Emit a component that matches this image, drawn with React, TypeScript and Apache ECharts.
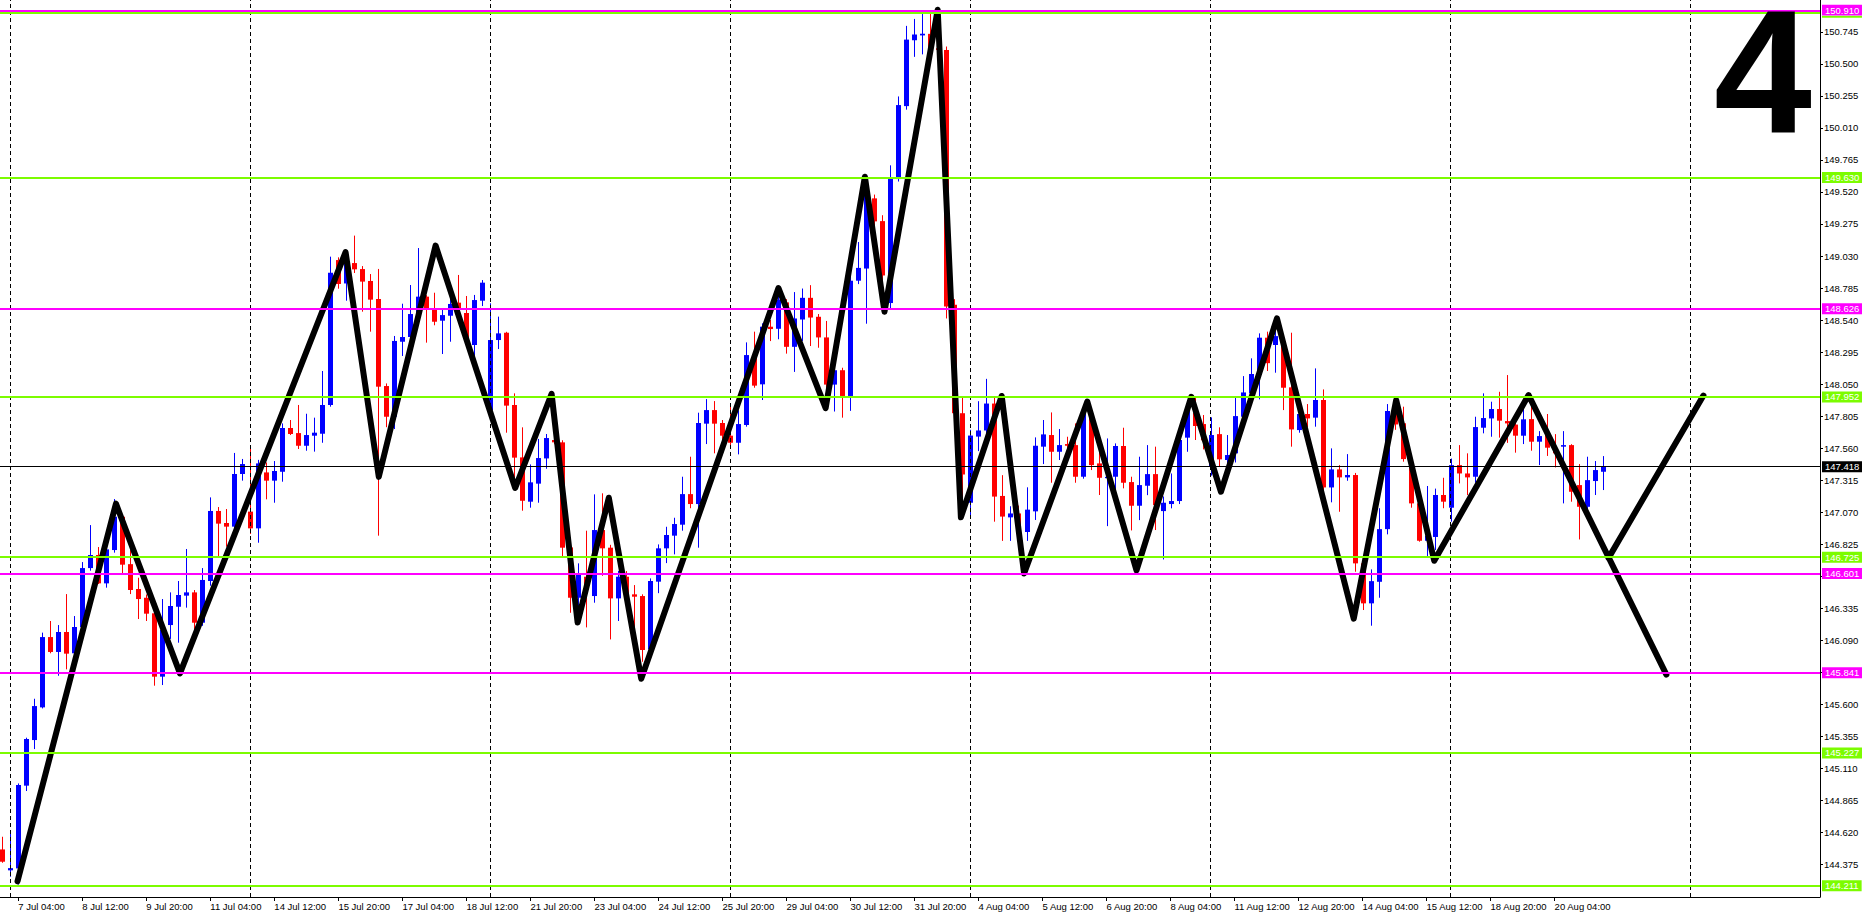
import React, { useEffect, useRef } from "react";
import * as echarts from "echarts";

// ---- H4 candles (index 0 = Fri 4 Jul 20:00) ----
const OPEN = [
  144.489, 144.329, 144.344, 144.977, 145.326, 145.576, 146.114, 146.000, 146.153, 145.990,
  146.190, 146.642, 146.742, 146.525, 146.780, 147.035, 146.672, 146.482, 146.415, 146.296,
  145.811, 146.206, 146.346, 146.431, 146.456, 146.224, 146.543, 147.079, 146.987, 146.959,
  147.362, 147.074, 146.946, 147.374, 147.311, 147.379, 147.714, 147.675, 147.578, 147.655,
  147.670, 147.890, 148.999, 148.820, 148.976, 148.930, 148.839, 148.701, 148.035, 147.800,
  148.374, 148.410, 148.590, 148.719, 148.625, 148.535, 148.573, 148.673, 148.594, 148.349,
  148.688, 147.850, 148.387, 148.443, 147.890, 147.489, 147.150, 147.288, 147.481, 147.622,
  147.604, 146.800, 146.415, 146.576, 146.428, 146.933, 146.798, 146.410, 146.576, 146.441,
  146.428, 146.020, 146.538, 146.793, 146.890, 146.974, 147.208, 147.132, 147.747, 147.851,
  147.752, 147.655, 147.601, 147.737, 148.250, 148.048, 148.489, 148.473, 148.675, 148.335,
  148.544, 148.710, 148.565, 148.407, 148.046, 148.156, 147.959, 148.841, 148.934, 149.471,
  149.297, 148.670, 149.619, 150.177, 150.681, 150.718, 150.730, 150.620, 150.607, 148.657,
  147.827, 147.142, 147.648, 147.695, 147.901, 147.194, 147.030, 147.060, 146.918, 147.076,
  147.571, 147.660, 147.532, 147.591, 147.583, 147.341, 147.800, 147.443, 147.330, 147.341,
  147.576, 147.300, 147.119, 147.272, 147.361, 147.078, 147.132, 147.155, 147.640, 147.830,
  147.744, 147.420, 147.667, 147.469, 147.520, 147.800, 147.980, 148.120, 148.405, 148.349,
  148.370, 148.025, 147.698, 147.821, 147.793, 147.928, 147.259, 147.397, 147.336, 147.354,
  146.678, 146.372, 146.537, 146.940, 147.840, 147.750, 147.420, 147.137, 146.851, 146.880,
  147.201, 147.104, 147.430, 147.366, 147.341, 147.716, 147.787, 147.859, 147.767, 147.740,
  147.655, 147.782, 147.609, 147.660, 147.560, 147.571, 147.583, 147.277, 147.111, 147.308,
  147.379,
];
const HIGH = [
  144.586, 144.630, 144.994, 145.344, 145.642, 146.148, 146.237, 146.206, 146.443, 146.275,
  146.688, 146.971, 146.803, 146.850, 147.170, 147.050, 146.780, 146.568, 146.440, 146.350,
  146.405, 146.456, 146.543, 146.788, 146.474, 146.642, 147.183, 147.109, 147.094, 147.523,
  147.477, 147.576, 147.470, 147.450, 147.461, 147.749, 147.775, 147.890, 147.823, 147.793,
  148.150, 149.025, 149.020, 149.050, 149.186, 148.953, 148.892, 148.931, 148.055, 148.418,
  148.665, 148.808, 149.091, 148.730, 148.749, 148.629, 148.730, 148.885, 148.724, 148.732,
  148.846, 148.668, 148.566, 148.450, 147.979, 147.719, 147.435, 147.630, 147.668, 147.640,
  147.620, 146.820, 146.678, 146.928, 147.206, 147.214, 146.820, 146.620, 146.619, 146.512,
  146.441, 146.563, 146.823, 146.958, 147.027, 147.341, 147.494, 147.831, 147.935, 147.920,
  147.775, 147.890, 147.850, 148.369, 148.451, 148.515, 148.540, 148.750, 148.700, 148.754,
  148.781, 148.807, 148.586, 148.533, 148.200, 148.175, 148.900, 149.137, 149.550, 149.500,
  149.342, 149.724, 150.251, 150.791, 150.844, 150.884, 150.905, 150.910, 150.633, 148.700,
  147.945, 147.700, 147.919, 148.090, 147.945, 147.353, 147.115, 147.120, 147.260, 147.642,
  147.775, 147.833, 147.706, 147.647, 147.749, 147.870, 147.850, 147.532, 147.634, 147.596,
  147.716, 147.341, 147.494, 147.583, 147.571, 147.190, 147.366, 147.670, 147.920, 147.950,
  147.813, 147.795, 147.719, 147.660, 147.946, 148.111, 148.247, 148.438, 148.451, 148.500,
  148.400, 148.443, 147.870, 147.897, 148.170, 148.009, 147.558, 147.430, 147.514, 147.370,
  146.730, 146.632, 147.100, 147.897, 147.930, 147.877, 147.450, 147.180, 147.270, 147.250,
  147.333, 147.480, 147.583, 147.520, 147.800, 147.979, 147.915, 147.991, 148.119, 147.800,
  147.860, 147.930, 147.690, 147.821, 147.667, 147.690, 147.590, 147.438, 147.494, 147.461,
  147.499,
];
const LOW = [
  144.387, 144.280, 144.220, 144.936, 145.257, 145.568, 145.990, 145.818, 145.867, 145.950,
  146.150, 146.622, 146.520, 146.492, 146.760, 146.589, 146.443, 146.252, 146.237, 145.742,
  145.747, 146.100, 146.071, 146.339, 146.122, 146.200, 146.507, 146.729, 146.806, 146.900,
  147.311, 146.903, 146.836, 147.168, 147.142, 147.303, 147.660, 147.553, 147.540, 147.533,
  147.601, 147.877, 148.780, 148.688, 148.900, 148.604, 148.451, 146.890, 147.720, 147.706,
  148.265, 148.350, 148.550, 148.367, 148.500, 148.280, 148.374, 148.580, 148.350, 148.250,
  148.647, 147.800, 148.318, 147.678, 147.300, 147.081, 147.104, 147.142, 147.402, 147.590,
  146.729, 146.300, 146.250, 146.188, 146.377, 146.583, 146.096, 146.237, 146.350, 146.155,
  145.925, 145.980, 146.450, 146.680, 146.747, 146.928, 147.100, 146.798, 147.591, 147.520,
  147.580, 147.583, 147.512, 147.724, 148.022, 147.928, 148.379, 148.393, 148.283, 148.143,
  148.380, 148.341, 148.328, 147.900, 147.840, 147.793, 147.845, 148.815, 148.512, 149.250,
  148.820, 148.620, 149.600, 150.150, 150.554, 150.573, 150.550, 150.480, 148.552, 147.750,
  147.030, 147.044, 147.537, 147.670, 146.997, 146.850, 146.850, 146.800, 146.850, 147.010,
  147.438, 147.295, 147.469, 147.500, 147.295, 147.326, 147.392, 147.201, 146.963, 147.200,
  147.252, 146.930, 147.009, 147.200, 146.933, 146.708, 147.099, 147.132, 147.532, 147.622,
  147.550, 147.350, 147.417, 147.400, 147.450, 147.750, 147.930, 147.933, 148.150, 148.137,
  147.851, 147.571, 147.678, 147.720, 147.724, 147.200, 147.145, 147.073, 147.310, 146.614,
  146.321, 146.201, 146.415, 146.900, 147.700, 147.456, 147.104, 146.844, 146.729, 146.780,
  147.100, 146.997, 147.290, 147.200, 147.295, 147.673, 147.647, 147.640, 147.600, 147.525,
  147.591, 147.540, 147.430, 147.500, 147.412, 147.137, 147.150, 146.861, 147.050, 147.201,
  147.239,
];
const CLOSE = [
  144.395, 144.346, 144.982, 145.334, 145.586, 146.114, 146.000, 146.153, 145.987, 146.191,
  146.642, 146.742, 146.525, 146.785, 147.035, 146.668, 146.474, 146.405, 146.293, 145.811,
  146.168, 146.352, 146.436, 146.456, 146.224, 146.551, 147.079, 146.982, 146.959, 147.362,
  147.438, 146.946, 147.443, 147.311, 147.385, 147.714, 147.668, 147.578, 147.660, 147.678,
  147.890, 148.902, 148.816, 149.000, 148.928, 148.834, 148.696, 148.030, 147.800, 148.380,
  148.410, 148.586, 148.719, 148.629, 148.527, 148.578, 148.663, 148.620, 148.390, 148.693,
  148.826, 148.387, 148.438, 147.885, 147.487, 147.157, 147.298, 147.484, 147.637, 147.604,
  146.798, 146.415, 146.600, 146.500, 146.933, 146.793, 146.410, 146.576, 146.420, 146.423,
  146.015, 146.543, 146.793, 146.895, 146.979, 147.208, 147.132, 147.752, 147.851, 147.747,
  147.655, 147.601, 147.744, 148.272, 148.038, 148.489, 148.471, 148.697, 148.335, 148.552,
  148.710, 148.559, 148.407, 148.046, 148.156, 147.959, 148.841, 148.939, 149.513, 149.295,
  148.881, 149.627, 150.185, 150.686, 150.725, 150.731, 150.620, 150.607, 148.644, 147.827,
  147.358, 147.656, 147.695, 147.901, 147.189, 147.036, 147.060, 146.920, 147.089, 147.578,
  147.665, 147.532, 147.583, 147.578, 147.341, 147.826, 147.430, 147.333, 147.340, 147.576,
  147.295, 147.119, 147.277, 147.361, 147.124, 147.142, 147.155, 147.622, 147.850, 147.729,
  147.620, 147.660, 147.474, 147.507, 147.805, 147.986, 148.127, 148.405, 148.210, 148.417,
  148.022, 147.703, 147.821, 147.787, 147.928, 147.259, 147.397, 147.336, 147.354, 146.678,
  146.372, 146.542, 146.940, 147.844, 147.741, 147.476, 147.137, 146.851, 146.890, 147.201,
  147.150, 147.430, 147.366, 147.336, 147.721, 147.790, 147.859, 147.770, 147.749, 147.655,
  147.780, 147.609, 147.652, 147.563, 147.520, 147.583, 147.226, 147.111, 147.315, 147.392,
  147.418,
];

// ---- Horizontal levels ----
const MAGENTA_LEVELS = [150.910, 148.626, 146.601, 145.841];
const GREEN_LEVELS = [149.630, 147.952, 146.725, 145.227, 144.211];
const GREEN_TOP_LEVEL = 150.890; // its label is hidden under the 150.910 label
const CURRENT_PRICE = 147.418;

// ---- Price scale ticks ----
const PRICE_TICKS = [
  144.375, 144.620, 144.865, 145.110, 145.355, 145.600, 145.845, 146.090, 146.335, 146.580,
  146.825, 147.070, 147.315, 147.560, 147.805, 148.050, 148.295, 148.540, 148.785, 149.030,
  149.275, 149.520, 149.765, 150.010, 150.255, 150.500, 150.745, 150.990,
];
const PRICE_TICKS_HIDDEN = [145.845, 146.580, 150.990];

// ---- Hand-drawn zigzag (bar position, price) ----
const ZIGZAG_MAIN: [number, number][] = [
  [1.9, 144.245], [14.2, 147.135], [22.2, 145.836], [42.9, 149.06], [47.05, 147.34],
  [54.15, 149.11], [64.1, 147.255], [68.65, 147.975], [71.9, 146.225], [75.8, 147.18],
  [79.85, 145.795], [97.0, 148.785], [102.9, 147.866], [107.8, 149.637], [110.25, 148.604],
  [116.9, 150.915], [119.8, 147.03], [124.9, 147.959], [127.7, 146.6], [135.6, 147.916],
  [141.75, 146.625], [148.6, 147.953], [152.3, 147.226], [159.3, 148.553], [168.9, 146.255],
  [174.2, 147.928], [178.96, 146.698], [190.75, 147.966], [207.97, 145.827],
];
const ZIGZAG_BRANCH: [number, number][] = [[200.75, 146.72], [212.6, 147.962]];

// ---- Time axis ----
const FIRST_BAR_TIME = Date.UTC(2025, 6, 4, 20, 0); // Fri 4 Jul 20:00
const BAR_HOURS = 4;
const AXIS_SLOTS = 228;
const LABEL_FIRST_BAR = 2;
const LABEL_STEP = 8;
const MONTHS = ["Jan", "Feb", "Mar", "Apr", "May", "Jun", "Jul", "Aug", "Sep", "Oct", "Nov", "Dec"];

const BULL = "#0000FF";
const BEAR = "#FF0000";
const MAGENTA = "#FF00FF";
const GREEN = "#7CFC00";
const FONT = "'Liberation Sans', Arial, sans-serif";

function buildBarTimes(n: number): number[] {
  const out: number[] = [];
  let t = FIRST_BAR_TIME;
  while (out.length < n) {
    const d = new Date(t).getUTCDay();
    if (d !== 0 && d !== 6) out.push(t);
    t += BAR_HOURS * 3600 * 1000;
  }
  return out;
}

function fmtTime(t: number): string {
  const d = new Date(t);
  const hh = String(d.getUTCHours()).padStart(2, "0");
  const mm = String(d.getUTCMinutes()).padStart(2, "0");
  return `${d.getUTCDate()} ${MONTHS[d.getUTCMonth()]} ${hh}:${mm}`;
}

export default function App() {
  const ref = useRef<HTMLDivElement>(null);

  useEffect(() => {
    if (!ref.current) return;
    const chart = echarts.init(ref.current, undefined, { renderer: "svg" });

    const times = buildBarTimes(AXIS_SLOTS);
    const n = CLOSE.length;
    const labelBars: number[] = [];
    for (let i = LABEL_FIRST_BAR; i < n; i += LABEL_STEP) labelBars.push(i);
    const weekBars: number[] = [];
    times.forEach((t, i) => {
      const d = new Date(t);
      if (d.getUTCDay() === 1 && d.getUTCHours() === 0) weekBars.push(i);
    });
    const candles = CLOSE.map((c, i) => [i, OPEN[i], c, LOW[i], HIGH[i]]);
    const priceLabels = PRICE_TICKS.filter((v) => !PRICE_TICKS_HIDDEN.includes(v));

    const levelLabel = (v: number, bg: string, extra: any = {}) => ({
      show: true,
      position: "end",
      distance: 2,
      color: "#fff",
      fontSize: 9.5,
      fontFamily: FONT,
      lineHeight: 10,
      padding: [1, 3, 0, 3],
      backgroundColor: bg,
      formatter: () => v.toFixed(3),
      ...extra,
    });

    const levelLines: any[] = [];
    levelLines.push({
      yAxis: GREEN_TOP_LEVEL,
      lineStyle: { color: GREEN, width: 2, type: "solid" },
      label: { show: false },
    });
    GREEN_LEVELS.forEach((v) =>
      levelLines.push({
        yAxis: v,
        lineStyle: { color: GREEN, width: 2, type: "solid" },
        label: levelLabel(v, GREEN),
      })
    );
    MAGENTA_LEVELS.forEach((v, k) =>
      levelLines.push({
        yAxis: v,
        lineStyle: { color: MAGENTA, width: 2, type: "solid" },
        label:
          k === 0
            ? levelLabel(v, MAGENTA, { shadowColor: GREEN, shadowOffsetY: 2, shadowBlur: 0 })
            : levelLabel(v, MAGENTA),
      })
    );
    levelLines.push({
      yAxis: CURRENT_PRICE,
      lineStyle: { color: "#000", width: 1, type: "solid" },
      label: levelLabel(CURRENT_PRICE, "#000"),
    });

    const option: any = {
      animation: false,
      backgroundColor: "#fff",
      grid: { left: 0, top: 0, right: 42, bottom: 21, containLabel: false, outerBoundsMode: "none" },
      xAxis: {
        type: "value",
        min: -0.29,
        max: 227.17,
        splitLine: { show: false },
        axisLine: { show: true, onZero: false, lineStyle: { color: "#000", width: 1 } },
        axisTick: { show: true, customValues: labelBars, length: 4, lineStyle: { color: "#000" } },
        axisLabel: {
          customValues: labelBars,
          formatter: (v: number) => fmtTime(times[Math.round(v)]),
          align: "left",
          margin: 4,
          color: "#000",
          fontSize: 9.5,
          fontFamily: FONT,
        },
      },
      yAxis: {
        type: "value",
        position: "right",
        min: 144.125,
        max: 150.989,
        splitLine: { show: false },
        axisLine: { show: true, onZero: false, lineStyle: { color: "#000", width: 1 } },
        axisTick: { show: true, customValues: PRICE_TICKS, length: 3, lineStyle: { color: "#000" } },
        axisLabel: {
          customValues: priceLabels,
          formatter: (v: number) => Number(v).toFixed(3),
          margin: 4,
          color: "#000",
          fontSize: 9.5,
          fontFamily: FONT,
        },
      },
      series: [
        {
          name: "weeks",
          type: "line",
          data: [],
          z: 1,
          silent: true,
          markLine: {
            silent: true,
            symbol: ["none", "none"],
            label: { show: false },
            lineStyle: { color: "#000", width: 1, type: [4, 3] },
            data: weekBars.map((i) => ({ xAxis: i })),
          },
        },
        {
          name: "candles",
          type: "custom",
          z: 2,
          silent: true,
          encode: { x: 0, y: [1, 2, 3, 4] },
          data: candles,
          renderItem: (params: any, api: any) => {
            const i = api.value(0);
            const o = api.value(1);
            const c = api.value(2);
            const l = api.value(3);
            const h = api.value(4);
            const pO = api.coord([i, o]);
            const pC = api.coord([i, c]);
            const pL = api.coord([i, l]);
            const pH = api.coord([i, h]);
            const x = Math.round(pO[0]) + 0.5;
            const color = c >= o ? BULL : BEAR;
            const top = Math.min(pO[1], pC[1]);
            const height = Math.max(1, Math.abs(pO[1] - pC[1]));
            return {
              type: "group",
              children: [
                { type: "line", shape: { x1: x, y1: pH[1], x2: x, y2: pL[1] }, style: { stroke: color, lineWidth: 1 } },
                { type: "rect", shape: { x: x - 2.5, y: top, width: 5, height }, style: { fill: color } },
              ],
            };
          },
        },
        {
          name: "levels",
          type: "line",
          data: [],
          z: 3,
          silent: true,
          markLine: {
            silent: true,
            symbol: ["none", "none"],
            precision: 3,
            data: levelLines,
          },
        },
        {
          name: "zigzag",
          type: "line",
          z: 4,
          silent: true,
          symbol: "none",
          showSymbol: false,
          data: ZIGZAG_MAIN,
          lineStyle: { color: "#000", width: 6, cap: "round", join: "round" },
        },
        {
          name: "zigzag2",
          type: "line",
          z: 4,
          silent: true,
          symbol: "none",
          showSymbol: false,
          data: ZIGZAG_BRANCH,
          lineStyle: { color: "#000", width: 6, cap: "round", join: "round" },
        },
      ],
      graphic: [
        {
          type: "text",
          z: 100,
          x: 1763,
          y: 72,
          style: {
            text: "4",
            fill: "#000",
            font: `bold 176px ${FONT}`,
            lineHeight: 128,
            align: "center",
            verticalAlign: "middle",
            textAlign: "center",
            textVerticalAlign: "middle",
          },
        },
      ],
    };

    chart.setOption(option);
    return () => chart.dispose();
  }, []);

  return (
    <div
      ref={ref}
      style={{ position: "absolute", left: 0, top: 0, width: 1862, height: 918, background: "#fff" }}
    />
  );
}
